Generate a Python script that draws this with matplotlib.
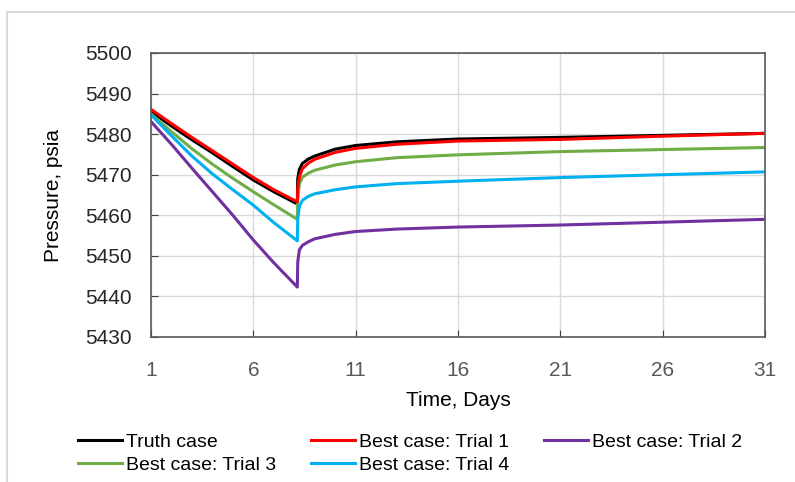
import numpy as np
import matplotlib.pyplot as plt
from matplotlib.patches import Rectangle

plt.rcParams['font.family'] = ['Liberation Sans', 'DejaVu Sans']

# time points (days); shut-in at ~8.15 days
days = [1, 2, 3, 4, 5, 6, 7, 8.15, 8.17, 8.25, 8.4, 8.7, 9, 10, 11, 13, 16, 21, 26, 31]

truth = [5485.6, 5482.0, 5478.6, 5475.4, 5472.0, 5468.7, 5465.8, 5462.8,
         5469.0, 5471.3, 5472.8, 5473.9, 5474.6, 5476.3, 5477.2, 5478.1, 5478.8, 5479.2, 5479.7, 5480.2]
trial1 = [5486.1, 5482.6, 5479.2, 5475.9, 5472.6, 5469.3, 5466.3, 5463.3,
          5466.5, 5469.5, 5471.5, 5472.9, 5473.8, 5475.5, 5476.5, 5477.5, 5478.3, 5478.7, 5479.5, 5480.2]
trial2 = [5483.1, 5477.5, 5471.6, 5465.8, 5460.0, 5453.9, 5448.3, 5442.3,
          5448.5, 5451.5, 5452.6, 5453.5, 5454.2, 5455.3, 5456.0, 5456.6, 5457.1, 5457.6, 5458.3, 5459.0]
trial3 = [5485.0, 5480.6, 5476.4, 5472.6, 5469.1, 5465.8, 5462.6, 5459.0,
          5464.0, 5467.8, 5469.4, 5470.4, 5471.1, 5472.4, 5473.2, 5474.2, 5474.9, 5475.7, 5476.2, 5476.7]
trial4 = [5484.8, 5479.6, 5474.6, 5470.2, 5466.3, 5462.5, 5458.2, 5453.7,
          5459.0, 5462.2, 5463.7, 5464.7, 5465.3, 5466.3, 5467.0, 5467.8, 5468.4, 5469.3, 5470.0, 5470.7]

fig = plt.figure(figsize=(7.95, 4.82), dpi=100)
ax = fig.add_axes([151/795, 1 - 337/482, (765-151)/795, (337-53)/482])

# light frame around the whole chart
fig.patches.append(Rectangle((7/795, -0.01), 1.0, 1 - 12/482 + 0.01, transform=fig.transFigure,
                             fill=False, edgecolor='#d9d9d9', linewidth=1.5))

h_truth, = ax.plot(days, truth, color='black', lw=2.2, label='Truth case', zorder=2)
h1, = ax.plot(days, trial1, color='#ff0000', lw=2.2, label='Best case: Trial 1', zorder=2.5)
h2, = ax.plot(days, trial2, color='#7030a0', lw=2.2, label='Best case: Trial 2')
h3, = ax.plot(days, trial3, color='#70ad47', lw=2.2, label='Best case: Trial 3')
h4, = ax.plot(days, trial4, color='#00b0f0', lw=2.2, label='Best case: Trial 4')

ax.set_xlim(1, 31)
ax.set_ylim(5430, 5500)
ax.set_xticks(np.arange(1, 32, 5))
ax.set_yticks(np.arange(5430, 5501, 10))
ax.grid(True, color='#d9d9d9', lw=1)
ax.set_axisbelow(True)
ax.tick_params(direction='in', labelsize=15, length=5, color='#404040')
ax.tick_params(axis='x', pad=17, labelcolor='#595959')
ax.tick_params(axis='y', pad=14, labelcolor='#262626')
for s in ax.spines.values():
    s.set_color('#595959')
    s.set_linewidth(1.2)

ax.set_xlabel('Time, Days', fontsize=15, labelpad=8)
ax.set_ylabel('Pressure, psia', fontsize=15, labelpad=16)

fig.legend(handles=[h_truth, h3, h1, h4, h2], loc='lower left', bbox_to_anchor=(70/795, 0.0),
           borderaxespad=0, ncol=3, frameon=False, fontsize=14, handlelength=2.26,
           handletextpad=0.2, columnspacing=1.8, labelspacing=0.3)

fig.savefig('out.png', dpi=100)
